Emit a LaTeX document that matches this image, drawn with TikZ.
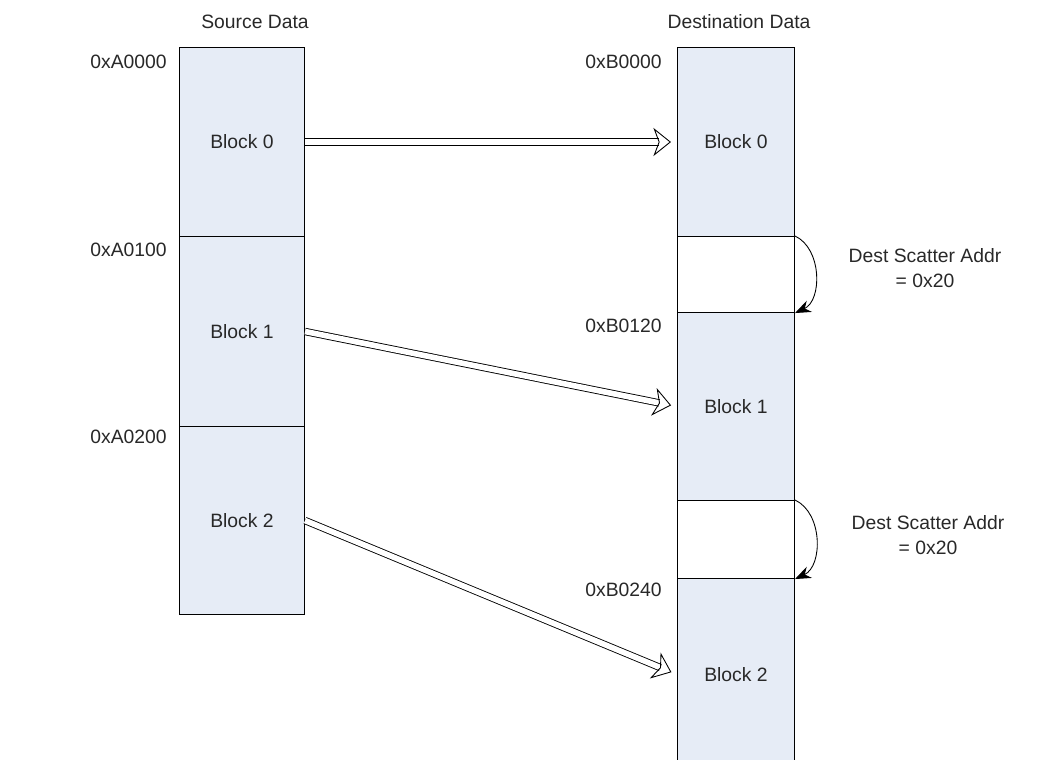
\documentclass[tikz,border=0pt]{standalone}
\usepackage{fontspec}
\setmainfont{Liberation Sans}
\usetikzlibrary{arrows.meta}

\definecolor{blockfill}{RGB}{230,236,246}
\definecolor{inkgray}{RGB}{40,40,40}

\begin{document}
\begin{tikzpicture}[
  x=0.02cm, y=-0.02cm,
  font=\fontsize{11}{14}\selectfont,
  text=inkgray,
  blk/.style={
    rectangle,
    draw,
    line width=0.6pt,
    fill=blockfill,
    inner sep=0pt,
    anchor=north
  },
  srcblk/.style={blk,minimum width=2.5cm},
  dstblk/.style={blk,minimum width=2.34cm},
  gap/.style={dstblk,fill=white},
  addr/.style={anchor=east,inner sep=0pt},
  move/.style={
    double,
    double distance=3.2pt,
    line width=0.5pt,
    -{Stealth[open,length=10pt,width=16pt,inset=3pt]},
    shorten >=0.12cm
  },
  hop/.style={
    -{Stealth[length=9pt,width=7pt]},
    line width=0.5pt
  }
]
  \useasboundingbox (0,0) rectangle (1042,760);
  % source side
  \node (srctitle) at (255,22) {Source Data};
  \node[srcblk,minimum height=3.78cm] (s0) at (242,47) {Block 0};
  \node[srcblk,minimum height=3.8cm] (s1) at (242,236) {Block 1};
  \node[srcblk,minimum height=3.76cm] (s2) at (242,426) {Block 2};
  \node[addr] (a0) at (167,62) {0xA0000};
  \node[addr] (a1) at (167,250) {0xA0100};
  \node[addr] (a2) at (167,437) {0xA0200};
  % destination side
  \node (dsttitle) at (739,22) {Destination Data};
  \node[dstblk,minimum height=3.78cm] (d0) at (736,47) {Block 0};
  \node[gap,minimum height=1.52cm] (g0) at (736,236) {};
  \node[dstblk,minimum height=3.76cm] (d1) at (736,312) {Block 1};
  \node[gap,minimum height=1.56cm] (g1) at (736,500) {};
  \node[dstblk,minimum height=3.84cm] (d2) at (736,578) {Block 2};
  \node[addr] (b0) at (662,62) {0xB0000};
  \node[addr] (b1) at (662,326) {0xB0120};
  \node[addr] (b2) at (662,590) {0xB0240};
  % copies
  \draw[move] (s0.east) -- (d0.west);
  \draw[move] (s1.east) -- (d1.west);
  \draw[move] (s2.east) -- (d2.west);
  % scatter gaps
  \draw[hop] (g0.north east) to[bend left=65] (g0.south east);
  \draw[hop] (g1.north east) to[bend left=65] (g1.south east);
  \node[align=center] (sc0) at (925,268) {Dest Scatter Addr\\= 0x20};
  \node[align=center] (sc1) at (928,535) {Dest Scatter Addr\\= 0x20};
\end{tikzpicture}
\end{document}
